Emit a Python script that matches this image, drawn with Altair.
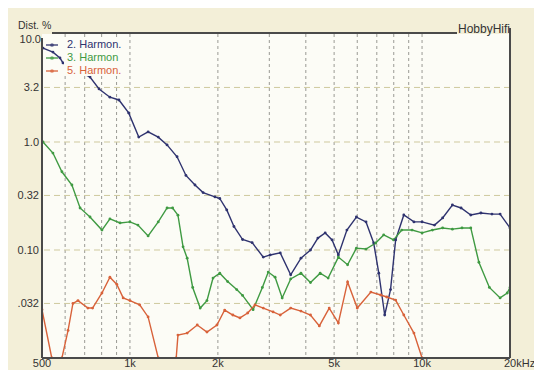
import altair as alt
import pandas as pd

# ---- data ----
blue_f = [504, 545, 576, 590, 650, 730, 784, 854, 917, 990, 1072, 1154, 1250, 1340, 1450,
          1555, 1670, 1780, 1955, 2030, 2145, 2270, 2430, 2620, 2860, 3020, 3270, 3550, 3850,
          4150, 4400, 4660, 4920, 5170, 5530, 5960, 6430, 6830, 7110, 7450, 7800, 8120, 8660,
          9380, 10000, 11030, 11760, 12700, 13600, 14680, 15900, 17350, 18500, 20000]
blue_v = [7.4, 6.8, 6.0, 5.4, 4.6, 4.0, 3.1, 2.6, 2.45, 1.86, 1.11, 1.24, 1.11, 0.94, 0.73,
          0.49, 0.40, 0.34, 0.31, 0.30, 0.235, 0.165, 0.125, 0.117, 0.086, 0.09, 0.094, 0.059, 0.084,
          0.10, 0.129, 0.144, 0.124, 0.09, 0.153, 0.202, 0.182, 0.116, 0.061, 0.025, 0.043, 0.124, 0.211,
          0.182, 0.182, 0.17, 0.198, 0.261, 0.245, 0.211, 0.22, 0.215, 0.215, 0.16]

green_f = [504, 545, 585, 633, 675, 730, 802, 854, 925, 1000, 1065, 1154, 1250, 1340, 1400,
           1460, 1520, 1570, 1640, 1740, 1835, 1925, 2030, 2160, 2320, 2430, 2640, 2840, 2975,
           3140, 3320, 3550, 3850, 4150, 4480, 4770, 5170, 5560, 5960, 6430, 6940, 7390, 7990,
           8520, 9240, 10000, 10850, 11760, 12700, 13700, 14680, 15650, 17000, 18500, 19570, 20000]
green_v = [1.0, 0.79, 0.53, 0.40, 0.245, 0.202, 0.153, 0.194, 0.178, 0.182, 0.17, 0.135, 0.182, 0.245, 0.245,
           0.21, 0.107, 0.084, 0.045, 0.029, 0.034, 0.055, 0.061, 0.051, 0.043, 0.038, 0.028, 0.045, 0.0625,
           0.056, 0.036, 0.054, 0.061, 0.05, 0.061, 0.055, 0.086, 0.073, 0.104, 0.102, 0.116, 0.138, 0.124,
           0.153, 0.153, 0.144, 0.153, 0.16, 0.156, 0.16, 0.16, 0.077, 0.045, 0.036, 0.04, 0.045]

orange_f = [500, 540, 585, 614, 638, 664, 718, 745, 802, 854, 902, 948, 1000, 1080, 1154,
            1250, 1340, 1440, 1460, 1570, 1700, 1835, 1985, 2110, 2250, 2380, 2530, 2680, 2860,
            3090, 3270, 3550, 3850, 4150, 4450, 4810, 5170, 5560, 6000, 6680, 7220, 7570, 8120,
            8660, 9380, 10000]
orange_v = [0.028, 0.01, 0.01, 0.018, 0.032, 0.034, 0.029, 0.029, 0.04, 0.056, 0.048, 0.036, 0.034, 0.031, 0.024,
            0.01, 0.007, 0.01, 0.0163, 0.017, 0.0202, 0.0174, 0.0202, 0.0278, 0.025, 0.0235, 0.0261, 0.031, 0.029,
            0.0267, 0.025, 0.029, 0.0272, 0.025, 0.0198, 0.029, 0.0211, 0.0506, 0.029, 0.0408, 0.0383, 0.0367, 0.0344,
            0.025, 0.017, 0.01]

series_names = ["2. Harmon.", "3. Harmon", "5. Harmon."]
series_colors = ["#2f336f", "#3f9a42", "#d8623a"]

grid_f = [600, 700, 800, 900, 1000, 2000, 3000, 4000, 5000, 6000, 7000, 8000, 9000, 10000]
grid_v = [3.2, 1.0, 0.32, 0.1, 0.032]
x_ticks = [500, 1000, 2000, 5000, 10000]
x_labels = ["500", "1k", "2k", "5k", "10k"]
x_last_tick = [20000]
x_last_label = ["20kHz"]
y_top_tick = [10]
y_top_label = ["10.0"]
y_ticks = [3.2, 1.0, 0.32, 0.1, 0.032]
y_labels = ["3.2", "1.0", "0.32", "0.10", ".032"]

# ---- build tables ----
rows = []
for name, fs, vs in zip(series_names, [blue_f, green_f, orange_f], [blue_v, green_v, orange_v]):
    for f, v in zip(fs, vs):
        rows.append({"f": f, "v": v, "s": name})
df = pd.DataFrame(rows)

W, H = 468, 324
FONT = "Liberation Sans, Arial, sans-serif"
xs = alt.Scale(type="log", domain=[500, 20000], nice=False)
ys = alt.Scale(type="log", domain=[0.01, 10], nice=False)
cs = alt.Scale(domain=series_names, range=series_colors)

vgrid = alt.Chart(pd.DataFrame({"f": grid_f})).mark_rule(
    color="#9a9a94", strokeDash=[3, 3], strokeWidth=1
).encode(x=alt.X("f:Q", scale=xs, axis=None))

hgrid = alt.Chart(pd.DataFrame({"v": grid_v})).mark_rule(
    color="#cfc99e", strokeDash=[6, 4], strokeWidth=1
).encode(y=alt.Y("v:Q", scale=ys, axis=None))

lines = alt.Chart(df).mark_line(
    strokeWidth=1.4, clip=True,
    point=alt.OverlayMarkDef(filled=True, size=8, clip=True)
).encode(
    x=alt.X("f:Q", scale=xs, axis=None),
    y=alt.Y("v:Q", scale=ys, axis=None),
    color=alt.Color("s:N", scale=cs, legend=None),
    order=alt.Order("f:Q"),
)

one = alt.Data(values=[{}])

def rule(x, y, x2=None, y2=None, w=2, color="#4a4a4a"):
    enc = dict(x=alt.value(x), y=alt.value(y))
    if x2 is not None:
        enc["x2"] = alt.value(x2)
    if y2 is not None:
        enc["y2"] = alt.value(y2)
    return alt.Chart(one).mark_rule(color=color, strokeWidth=w).encode(**enc)

frame = [
    rule(0, 4, y2=H),            # left
    rule(0, H, x2=W),            # bottom
    rule(W, -6, y2=H),           # right
    rule(10, -1, x2=415),        # top line
]

# legend box + entries
legend_bg = alt.Chart(one).mark_rect(color="#fcfcf6").encode(
    x=alt.value(22), x2=alt.value(78), y=alt.value(4), y2=alt.value(42)
)
legend = [legend_bg]
for i, (name, col) in enumerate(zip(series_names, series_colors)):
    yy = 11 + 13 * i
    legend.append(rule(4, yy, x2=16, w=1.3, color=col))
    legend.append(alt.Chart(one).mark_point(filled=True, size=14, color=col, shape="circle").encode(
        x=alt.value(10), y=alt.value(yy)))
    legend.append(alt.Chart(one).mark_text(
        text=name, align="left", baseline="middle", font=FONT, fontSize=11, color=col
    ).encode(x=alt.value(25), y=alt.value(yy)))

ylab = alt.Chart(pd.DataFrame({"v": y_ticks, "lab": y_labels})).mark_text(
    align="right", baseline="middle", font=FONT, fontSize=11, color="#333333", dy=1
).encode(y=alt.Y("v:Q", scale=ys, axis=None), x=alt.value(-3), text="lab:N")

ylab_top = alt.Chart(pd.DataFrame({"v": y_top_tick, "lab": y_top_label})).mark_text(
    align="right", baseline="middle", font=FONT, fontSize=11, color="#333333", dy=6
).encode(y=alt.Y("v:Q", scale=ys, axis=None), x=alt.value(-1), text="lab:N")

xlab = alt.Chart(pd.DataFrame({"f": x_ticks, "lab": x_labels})).mark_text(
    align="center", baseline="middle", font=FONT, fontSize=11, color="#333333"
).encode(x=alt.X("f:Q", scale=xs, axis=None), y=alt.value(330), text="lab:N")

xlab_last = alt.Chart(pd.DataFrame({"f": x_last_tick, "lab": x_last_label})).mark_text(
    align="left", baseline="middle", font=FONT, fontSize=11, color="#333333", dx=-6
).encode(x=alt.X("f:Q", scale=xs, axis=None), y=alt.value(330), text="lab:N")

dist = alt.Chart(one).mark_text(
    text="Dist. %", align="left", baseline="middle", font=FONT, fontSize=10.5, color="#333333"
).encode(x=alt.value(-24), y=alt.value(-8))

brand = alt.Chart(one).mark_text(
    text="HobbyHifi", align="right", baseline="middle", font=FONT, fontSize=12, color="#333333"
).encode(x=alt.value(468), y=alt.value(-5))

chart = alt.layer(
    vgrid, hgrid, lines, *frame, *legend, ylab, ylab_top, xlab, xlab_last, dist, brand
).properties(
    width=W, height=H,
    padding={"left": 34, "top": 26, "right": 24, "bottom": 12},
    autosize=alt.AutoSizeParams(type="none"),
    background="#f3efd8",
).configure_view(fill="#fcfcf6", stroke=None)

chart.save("out.html", embed_options={"renderer": "svg", "actions": False})
